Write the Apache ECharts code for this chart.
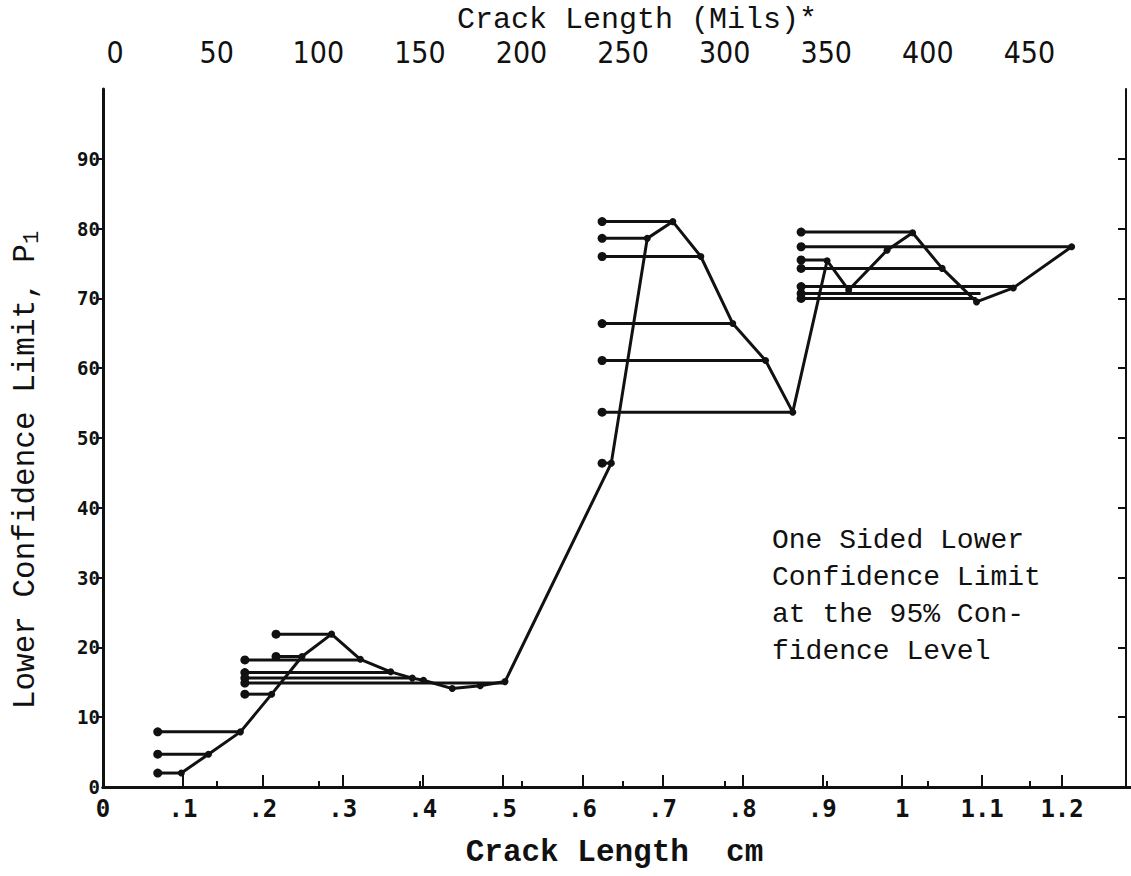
<!DOCTYPE html>
<html><head><meta charset="utf-8">
<script src="https://cdn.jsdelivr.net/npm/echarts@6/dist/echarts.min.js"></script>
<style>html,body{margin:0;padding:0;background:#fff}#c{width:1131px;height:876px}</style>
</head><body><div id="c"></div>
<script>
// ---- data ----
const xTickValues = [0, 0.1, 0.2, 0.3, 0.4, 0.5, 0.6, 0.7, 0.8, 0.9, 1.0, 1.1, 1.2];
const xTickLabels = ['0', '.1', '.2', '.3', '.4', '.5', '.6', '.7', '.8', '.9', '1', '1.1', '1.2'];
const topTickValues = [0, 50, 100, 150, 200, 250, 300, 350, 400, 450];
const yTickValues = [0, 10, 20, 30, 40, 50, 60, 70, 80, 90];
const rightTickValues = [10, 20, 30, 40, 50, 60, 70, 80, 90];

// connecting line (crack length cm, lower confidence limit)
const lineX = [0.098, 0.132, 0.172, 0.211, 0.249, 0.286, 0.322, 0.360, 0.387, 0.401, 0.437, 0.472, 0.503,
               0.636, 0.681, 0.713, 0.748, 0.788, 0.829, 0.863,
               0.906, 0.933, 0.981, 1.013, 1.050, 1.093, 1.139, 1.212];
const lineY = [2.0, 4.7, 7.9, 13.3, 18.7, 21.9, 18.3, 16.5, 15.6, 15.3, 14.1, 14.5, 15.1,
               46.4, 78.6, 81.0, 76.0, 66.4, 61.1, 53.7,
               75.4, 71.2, 76.9, 79.4, 74.3, 69.5, 71.5, 77.4];

// horizontal interval bars: start, end, level
const barStart = [0.066, 0.066, 0.066,
                  0.175, 0.175, 0.175, 0.175, 0.175, 0.214, 0.214,
                  0.622, 0.622, 0.622, 0.622, 0.622, 0.622, 0.622,
                  0.871, 0.871, 0.871, 0.871, 0.871, 0.871, 0.871];
const barEnd   = [0.098, 0.132, 0.172,
                  0.322, 0.360, 0.387, 0.503, 0.211, 0.286, 0.249,
                  0.713, 0.681, 0.748, 0.788, 0.829, 0.863, 0.636,
                  1.013, 1.212, 0.906, 1.050, 1.139, 1.098, 1.093];
const barValue = [2.0, 4.7, 7.9,
                  18.2, 16.4, 15.6, 14.9, 13.3, 21.9, 18.7,
                  81.0, 78.6, 76.0, 66.4, 61.1, 53.7, 46.4,
                  79.5, 77.4, 75.5, 74.3, 71.7, 70.7, 70.0];

const annotationLines = ['One Sided Lower', 'Confidence Limit', 'at the 95% Con-', 'fidence Level'];
const topTitle = 'Crack Length (Mils)*';
const bottomTitle = 'Crack Length  cm';

// ---- chart ----
const INK = '#111';
const TYPE = "'Liberation Mono', 'DejaVu Sans Mono', monospace";
const DOT = "'DejaVu Sans Mono', 'Liberation Mono', monospace";
const NARROW = "'Liberation Sans Narrow', 'DejaVu Sans Condensed', 'Liberation Sans', sans-serif";

const chart = echarts.init(document.getElementById('c'), null, {renderer: 'svg'});

const barData = barStart.map((s, i) => [s, barEnd[i], barValue[i]]);
const lineData = lineX.map((x, i) => [x, lineY[i]]);

function xLabel(v) {
  for (let i = 0; i < xTickValues.length; i++) {
    if (Math.abs(v - xTickValues[i]) < 1e-6) return xTickLabels[i];
  }
  return '';
}

chart.setOption({
  animation: false,
  backgroundColor: '#fff',
  title: {
    text: topTitle,
    left: 452, top: 0,
    textStyle: {fontFamily: TYPE, fontSize: 30, fontWeight: 'normal', color: INK}
  },
  grid: [
    {left: 103, right: 5, top: 89, bottom: 89},
    {left: 103, right: 0, top: 89, bottom: 89}
  ],
  xAxis: [
    {
      type: 'value', gridIndex: 0, position: 'bottom', min: 0, max: 1.28,
      splitLine: {show: false},
      axisLine: {show: true, lineStyle: {color: INK, width: 3}},
      axisTick: {show: true, inside: true, length: 12, customValues: xTickValues.slice(1), lineStyle: {color: INK, width: 2}},
      axisLabel: {customValues: xTickValues, formatter: xLabel, fontFamily: DOT, fontWeight: 'bold', fontSize: 24, color: INK, margin: 10},
      name: bottomTitle, nameLocation: 'middle', nameGap: 50,
      nameTextStyle: {fontFamily: TYPE, fontWeight: 'bold', fontSize: 31, color: INK}
    },
    {
      type: 'value', gridIndex: 1, position: 'top', min: -6, max: 500,
      splitLine: {show: false},
      axisLine: {show: true, lineStyle: {color: INK, width: 3}},
      axisTick: {show: true, inside: false, length: 6, customValues: topTickValues.slice(1), lineStyle: {color: INK, width: 2}},
      axisLabel: {customValues: topTickValues, fontFamily: NARROW, fontSize: 30, color: INK, margin: 22}
    }
  ],
  yAxis: [
    {
      type: 'value', gridIndex: 0, position: 'left', min: 0, max: 100,
      splitLine: {show: false},
      axisLine: {show: true, lineStyle: {color: INK, width: 3}},
      axisTick: {show: true, inside: false, length: 6, customValues: yTickValues.slice(1), lineStyle: {color: INK, width: 2}},
      axisLabel: {customValues: yTickValues, fontFamily: DOT, fontWeight: 'bold', fontSize: 19, color: INK, margin: 3},
      name: 'Lower Confidence Limit, P{sub|1}', nameLocation: 'middle', nameGap: 60,
      nameTextStyle: {
        fontFamily: TYPE, fontSize: 31, color: INK, padding: [0, 64, 0, 0],
        rich: {sub: {fontFamily: TYPE, fontSize: 22, color: INK, verticalAlign: 'bottom', padding: [14, 0, 0, 0]}}
      }
    },
    {
      type: 'value', gridIndex: 0, position: 'right', min: 0, max: 100,
      splitLine: {show: false},
      axisLine: {show: true, lineStyle: {color: INK, width: 2}},
      axisTick: {show: true, inside: true, length: 8, customValues: rightTickValues, lineStyle: {color: INK, width: 2}},
      axisLabel: {show: false}
    },
    {type: 'value', gridIndex: 1, show: false, min: 0, max: 100}
  ],
  graphic: [{
    type: 'text', left: 772, top: 522,
    style: {
      text: annotationLines.join('\n'),
      font: "normal 28px 'Liberation Mono', 'DejaVu Sans Mono', monospace",
      lineHeight: 37, fill: INK
    }
  }],
  series: [
    {
      type: 'custom', xAxisIndex: 0, yAxisIndex: 0, data: barData, z: 3,
      renderItem: function (params, api) {
        const p0 = api.coord([api.value(0), api.value(2)]);
        const p1 = api.coord([api.value(1), api.value(2)]);
        return {
          type: 'group',
          children: [
            {type: 'line', shape: {x1: p0[0], y1: p0[1], x2: p1[0], y2: p1[1]},
             style: {stroke: INK, lineWidth: 3}},
            {type: 'circle', shape: {cx: p0[0] + 2, cy: p0[1], r: 4.5}, style: {fill: INK}}
          ]
        };
      }
    },
    {
      type: 'line', xAxisIndex: 0, yAxisIndex: 0, data: lineData, z: 4,
      symbol: 'circle', symbolSize: 7,
      lineStyle: {color: INK, width: 3},
      itemStyle: {color: INK}
    }
  ]
});
</script></body></html>
